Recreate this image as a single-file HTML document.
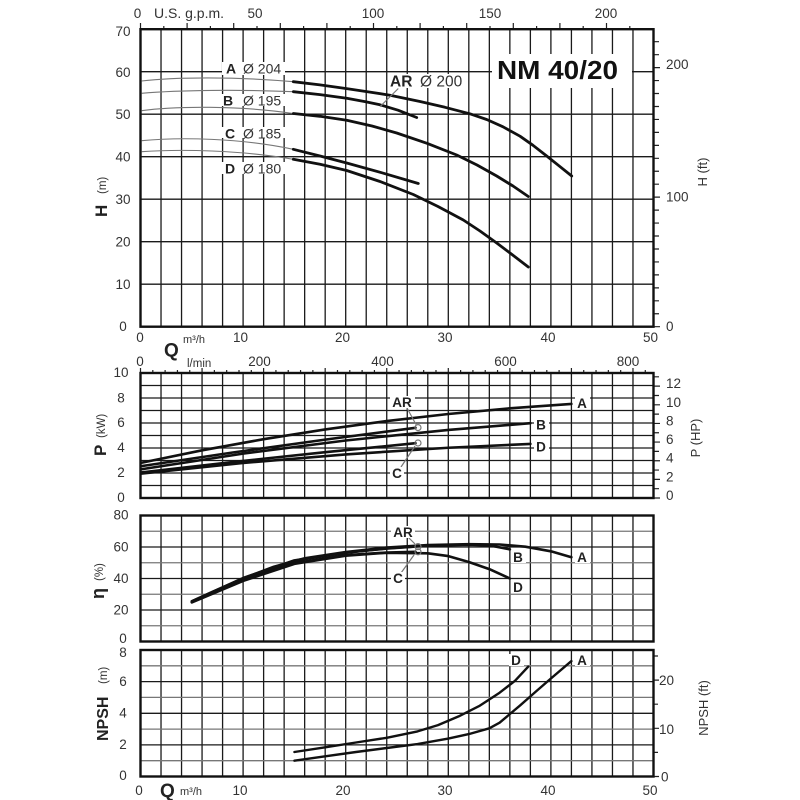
<!DOCTYPE html>
<html>
<head>
<meta charset="utf-8">
<style>
  html,body{margin:0;padding:0;background:#fff;}
  svg{display:block;}
  text{font-family:"Liberation Sans",Arial,sans-serif;fill:#333;}
  .t{font-size:13.5px;}
  .b{font-weight:bold;fill:#222;}
</style>
</head>
<body>
<svg width="800" height="800" viewBox="0 0 800 800" xmlns="http://www.w3.org/2000/svg">
<rect x="0" y="0" width="800" height="800" fill="#fff"/>

<!-- ================= GRIDS ================= -->
<g stroke="#1a1a1a" stroke-width="1.3" fill="none">
  <path d="M161.02 29.2V326.7M181.54 29.2V326.7M202.06 29.2V326.7M222.58 29.2V326.7M243.1 29.2V326.7M263.62 29.2V326.7M284.14 29.2V326.7M304.66 29.2V326.7M325.18 29.2V326.7M345.7 29.2V326.7M366.22 29.2V326.7M386.74 29.2V326.7M407.26 29.2V326.7M427.78 29.2V326.7M448.3 29.2V326.7M468.82 29.2V326.7M489.34 29.2V326.7M509.86 29.2V326.7M530.38 29.2V326.7M550.9 29.2V326.7M571.42 29.2V326.7M591.94 29.2V326.7M612.46 29.2V326.7M632.98 29.2V326.7"/>
  <path d="M140.5 71.7H653.5M140.5 114.2H653.5M140.5 156.7H653.5M140.5 199.2H653.5M140.5 241.7H653.5M140.5 284.2H653.5"/>
  <path d="M161.02 373V498M181.54 373V498M202.06 373V498M222.58 373V498M243.1 373V498M263.62 373V498M284.14 373V498M304.66 373V498M325.18 373V498M345.7 373V498M366.22 373V498M386.74 373V498M407.26 373V498M427.78 373V498M448.3 373V498M468.82 373V498M489.34 373V498M509.86 373V498M530.38 373V498M550.9 373V498M571.42 373V498M591.94 373V498M612.46 373V498M632.98 373V498"/>
  <path d="M140.5 385.5H653.5M140.5 398H653.5M140.5 410.5H653.5M140.5 423H653.5M140.5 435.5H653.5M140.5 448H653.5M140.5 460.5H653.5M140.5 473H653.5M140.5 485.5H653.5"/>
  <path d="M161.02 515.5V641.5M181.54 515.5V641.5M202.06 515.5V641.5M222.58 515.5V641.5M243.1 515.5V641.5M263.62 515.5V641.5M284.14 515.5V641.5M304.66 515.5V641.5M325.18 515.5V641.5M345.7 515.5V641.5M366.22 515.5V641.5M386.74 515.5V641.5M407.26 515.5V641.5M427.78 515.5V641.5M448.3 515.5V641.5M468.82 515.5V641.5M489.34 515.5V641.5M509.86 515.5V641.5M530.38 515.5V641.5M550.9 515.5V641.5M571.42 515.5V641.5M591.94 515.5V641.5M612.46 515.5V641.5M632.98 515.5V641.5"/>
  <path d="M140.5 547H653.5M140.5 578.5H653.5M140.5 610H653.5"/>
  <path d="M161.02 650V776.5M181.54 650V776.5M202.06 650V776.5M222.58 650V776.5M243.1 650V776.5M263.62 650V776.5M284.14 650V776.5M304.66 650V776.5M325.18 650V776.5M345.7 650V776.5M366.22 650V776.5M386.74 650V776.5M407.26 650V776.5M427.78 650V776.5M448.3 650V776.5M468.82 650V776.5M489.34 650V776.5M509.86 650V776.5M530.38 650V776.5M550.9 650V776.5M571.42 650V776.5M591.94 650V776.5M612.46 650V776.5M632.98 650V776.5"/>
  <path d="M140.5 681.6H653.5M140.5 713.3H653.5M140.5 744.9H653.5"/>
</g>
<g stroke="#777" stroke-width="1.3" fill="none">
  <path d="M140.5 531.25H653.5M140.5 562.75H653.5M140.5 594.25H653.5M140.5 625.75H653.5"/>
  <path d="M140.5 665.8H653.5M140.5 697.4H653.5M140.5 729.1H653.5M140.5 760.7H653.5"/>
</g>

<!-- ================= TICKS ================= -->
<g stroke="#222" stroke-width="1.2" fill="none">
  <path d="M140.5 29V23M163.8 29V26M187.1 29V23M210.4 29V26M233.7 29V23M257 29V26M280.3 29V23M303.6 29V26M326.9 29V23M350.2 29V26M373.5 29V23M396.8 29V26M420.1 29V23M443.4 29V26M466.7 29V23M490 29V26M513.3 29V23M536.6 29V26M559.9 29V23M583.2 29V26M606.5 29V23M629.8 29V26"/>
  <path d="M140.5 373V368M152.81 373V370M165.12 373V370M177.44 373V370M189.75 373V370M202.06 373V368M214.37 373V370M226.68 373V370M239 373V370M251.31 373V370M263.62 373V368M275.93 373V370M288.24 373V370M300.56 373V370M312.87 373V370M325.18 373V368M337.49 373V370M349.8 373V370M362.12 373V370M374.43 373V370M386.74 373V368M399.05 373V370M411.36 373V370M423.68 373V370M435.99 373V370M448.3 373V368M460.61 373V370M472.92 373V370M485.24 373V370M497.55 373V370M509.86 373V368M522.17 373V370M534.48 373V370M546.8 373V370M559.11 373V370M571.42 373V368M583.73 373V370M596.04 373V370M608.36 373V370M620.67 373V370M632.98 373V368M645.29 373V370"/>
  <path d="M653.5 326.7H660M653.5 313.75H659M653.5 300.79H659M653.5 287.84H659M653.5 274.88H659M653.5 261.93H659M653.5 248.98H659M653.5 236.02H659M653.5 223.07H659M653.5 210.11H659M653.5 197.16H660M653.5 184.21H659M653.5 171.25H659M653.5 158.3H659M653.5 145.34H659M653.5 132.39H659M653.5 119.44H659M653.5 106.48H659M653.5 93.53H659M653.5 80.57H659M653.5 67.62H660M653.5 54.67H659M653.5 41.71H659"/>
  <path d="M653.5 498H660M653.5 488.68H659M653.5 479.36H660M653.5 470.04H659M653.5 460.72H660M653.5 451.4H659M653.5 442.07H660M653.5 432.75H659M653.5 423.43H660M653.5 414.11H659M653.5 404.79H660M653.5 395.47H659M653.5 386.15H660M653.5 376.83H659"/>
  <path d="M653.5 776.5H659M653.5 752.4H658M653.5 728.3H659M653.5 704.2H658M653.5 680.1H659M653.5 656H658"/>
</g>

<!-- ================= BORDERS ================= -->
<g stroke="#111" stroke-width="2.4" fill="none">
  <rect x="140.5" y="29.2" width="513" height="297.5"/>
  <rect x="140.5" y="373" width="513" height="125"/>
  <rect x="140.5" y="515.5" width="513" height="126"/>
  <rect x="140.5" y="650" width="513" height="126.5"/>
</g>

<!-- ================= H CURVES ================= -->
<g stroke="#777" stroke-width="1.1" fill="none">
  <path d="M141.5,81 C175,77 235,76.5 293.3,81.7"/>
  <path d="M141.5,93.3 C180,90 240,89.5 293.3,91.7"/>
  <path d="M141.5,110.7 C175,106 240,105.5 293.3,113.5"/>
  <path d="M141.5,140.7 C180,137 240,138 293.3,149.3"/>
  <path d="M141.5,151.7 C180,149 240,150 293.3,159.3"/>
</g>
<g stroke="#111" stroke-width="2.8" fill="none" stroke-linejoin="round" stroke-linecap="round">
  <path d="M293.3,81.7 L320,84.9 L346.7,88.6 L370,92.1 L390,95.2 L420,101.5 L445,107.3 L470,113.8 L486.7,119.5 L503,126.8 L520,136.2 L533,145.3 L546.7,156 L559,165.8 L571.7,176"/>
  <path d="M293.3,91.7 L320,94.6 L346.7,98.3 L365,101.6 L380,104.8 L398,110.2 L416.7,117.5"/>
  <path d="M293.3,113.5 L320,116.3 L346.7,120.3 L372,126 L396.7,133 L427,143.3 L456.7,155 L477,165 L496.7,176 L513,186 L528.3,196.5"/>
  <path d="M293.3,149.3 L320,156 L346.7,163 L382,172.8 L418.3,183.5"/>
  <path d="M293.3,159.3 L320,164.3 L346.7,170.5 L380,181.5 L413.3,194.5 L438,206.5 L463.3,220 L480,231 L496.7,243 L512,254.5 L528.3,267"/>
</g>

<!-- ================= P CURVES ================= -->
<g stroke="#111" stroke-width="2.6" fill="none" stroke-linejoin="round" stroke-linecap="round">
  <path d="M141.5,462.75 L202.1,450.3 L263.6,439.2 L325.2,429.45 L386.7,421.05 L448.3,414 L509.9,408.3 L571.4,403.95"/>
  <path d="M141.5,466.1 L232.8,452.5 L325.2,439.6 L415.5,427.8"/>
  <path d="M141.5,469.25 L243.1,453.6 L345.7,440.5 L448.3,429.9 L530.4,423.2"/>
  <path d="M141.5,472.4 L232.8,462 L325.2,452.2 L415.5,443.2"/>
  <path d="M141.5,473.6 L243.1,463 L345.7,454.4 L448.3,447.75 L530.4,443.9"/>
</g>

<!-- ================= ETA CURVES ================= -->
<g stroke="#111" stroke-width="2.6" fill="none" stroke-linejoin="round" stroke-linecap="round">
  <path d="M191.8,601.3 L212.3,591.9 L243.1,578.5 L273.9,566.7 L304.7,558.3 L345.7,552 L386.7,547.6 L427.8,545.1 L468.8,544.2 L499.6,544.5 L525.3,546.7 L550.9,551.3 L571.4,557.2"/>
  <path d="M191.8,602.1 L212.3,592.7 L243.1,579.3 L273.9,567.5 L304.7,559.1 L345.7,552.8 L386.7,548.3 L427.8,545.7 L468.8,544.8 L489.3,545.4 L509.9,549.4"/>
  <path d="M191.8,601.3 L243.1,578 L294.4,560.4 L345.7,552.5 L386.7,548.6 L415.5,546.6"/>
  <path d="M191.8,602.1 L243.1,580.1 L294.4,563.1 L345.7,555.2 L386.7,552.5 L415.5,551.8"/>
  <path d="M191.8,602.4 L243.1,580.9 L294.4,563.9 L345.7,555.7 L386.7,552.8 L427.8,553.3 L448.3,556.1 L468.8,562 L489.3,569.1 L509.9,578.5"/>
</g>

<!-- ================= NPSH CURVES ================= -->
<g stroke="#111" stroke-width="2.4" fill="none" stroke-linejoin="round" stroke-linecap="round">
  <path d="M294.4,752 L325.2,747.3 L356,742.5 L386.7,737.8 L417.5,731.4 L438,725.1 L458.6,716.4 L479.1,706.1 L499.6,692.7 L515,680.8 L528.3,666.6"/>
  <path d="M294.4,760.7 L325.2,756.3 L356,752 L386.7,748 L417.5,744.1 L448.3,738.6 L468.8,734.1 L489.3,728.3 L499.6,722.7 L509.9,714 L520.1,705.4 L535.5,691.9 L550.9,678.5 L571.4,661.1"/>
</g>

<!-- markers & leaders -->
<g stroke="#777" stroke-width="1.2" fill="none">
  <circle cx="418" cy="427.6" r="3"/>
  <circle cx="418" cy="443" r="3"/>
  <path d="M407,408 L416,424.5"/>
  <path d="M401,467 L415,446"/>
  <circle cx="418" cy="546.6" r="3"/>
  <circle cx="418" cy="551.8" r="3"/>
  <path d="M408,537 L415,544"/>
  <path d="M401,573 L414,555"/>
  <path d="M398.3,88.5 L380,106.7"/>
</g>

<!-- ================= WHITE LABEL BOXES ================= -->
<g fill="#fff">
  <rect x="222" y="62" width="63" height="13"/>
  <rect x="220" y="94" width="65" height="12"/>
  <rect x="220" y="127" width="65" height="11"/>
  <rect x="220" y="162" width="65" height="12"/>
  <rect x="388" y="74" width="76" height="14"/>
  <rect x="492" y="54" width="140" height="34"/>
  <rect x="390" y="396" width="25" height="12"/>
  <rect x="390" y="467" width="14" height="12"/>
  <rect x="575" y="397" width="15" height="12"/>
  <rect x="534" y="418" width="15" height="12"/>
  <rect x="534" y="440" width="15" height="12"/>
  <rect x="391" y="526" width="24" height="12"/>
  <rect x="391" y="572" width="14" height="12"/>
  <rect x="511" y="551" width="15" height="12"/>
  <rect x="575" y="551" width="15" height="12"/>
  <rect x="511" y="581" width="15" height="12"/>
  <rect x="509" y="654" width="15" height="12"/>
  <rect x="575" y="654" width="15" height="12"/>
</g>

<!-- ================= CURVE LABELS ================= -->
<g font-size="14">
  <text x="226" y="73.5"><tspan class="b">A</tspan><tspan x="243">Ø 204</tspan></text>
  <text x="223" y="105.5"><tspan class="b">B</tspan><tspan x="243">Ø 195</tspan></text>
  <text x="225" y="138.5"><tspan class="b">C</tspan><tspan x="243">Ø 185</tspan></text>
  <text x="225" y="173.5"><tspan class="b">D</tspan><tspan x="243">Ø 180</tspan></text>
</g>
<text x="390" y="86.5" font-size="15.5"><tspan class="b">AR</tspan><tspan x="420">Ø 200</tspan></text>
<text x="497" y="79" font-size="26" font-weight="bold" style="fill:#111" textLength="121" lengthAdjust="spacingAndGlyphs">NM 40/20</text>

<g font-size="13.5" text-anchor="middle">
  <text class="b" x="402" y="407">AR</text>
  <text class="b" x="397" y="478">C</text>
  <text class="b" x="582" y="408">A</text>
  <text class="b" x="541" y="429.5">B</text>
  <text class="b" x="541" y="451.5">D</text>
  <text class="b" x="403" y="537">AR</text>
  <text class="b" x="398" y="583">C</text>
  <text class="b" x="518" y="562">B</text>
  <text class="b" x="582" y="562">A</text>
  <text class="b" x="518" y="592">D</text>
  <text class="b" x="516" y="665">D</text>
  <text class="b" x="582" y="665">A</text>
</g>

<!-- ================= AXIS NUMBERS ================= -->
<g class="t" text-anchor="middle">
  <text x="137.5" y="18">0</text>
  <text x="255" y="18">50</text>
  <text x="373" y="18">100</text>
  <text x="490" y="18">150</text>
  <text x="606" y="18">200</text>
  <text x="123" y="36">70</text>
  <text x="123" y="77">60</text>
  <text x="123" y="119">50</text>
  <text x="123" y="161.5">40</text>
  <text x="123" y="204">30</text>
  <text x="123" y="246.5">20</text>
  <text x="123" y="289">10</text>
  <text x="123" y="331">0</text>
  <text x="140" y="342">0</text>
  <text x="240.5" y="342">10</text>
  <text x="342.5" y="342">20</text>
  <text x="445" y="342">30</text>
  <text x="548" y="342">40</text>
  <text x="650.5" y="342">50</text>
  <text x="140" y="366">0</text>
  <text x="259.5" y="366">200</text>
  <text x="382.5" y="366">400</text>
  <text x="505.5" y="366">600</text>
  <text x="628" y="366">800</text>
  <text x="121" y="377">10</text>
  <text x="121" y="402.5">8</text>
  <text x="121" y="427">6</text>
  <text x="121" y="452">4</text>
  <text x="121" y="477">2</text>
  <text x="121" y="502">0</text>
  <text x="121" y="519.5">80</text>
  <text x="121" y="551.5">60</text>
  <text x="121" y="583">40</text>
  <text x="121" y="614.5">20</text>
  <text x="123" y="643">0</text>
  <text x="123" y="657">8</text>
  <text x="123" y="686">6</text>
  <text x="123" y="717.5">4</text>
  <text x="123" y="749">2</text>
  <text x="123" y="780">0</text>
  <text x="139" y="795">0</text>
  <text x="240" y="795">10</text>
  <text x="343" y="795">20</text>
  <text x="445" y="795">30</text>
  <text x="548" y="795">40</text>
  <text x="650" y="795">50</text>
</g>
<g class="t">
  <text x="666" y="331">0</text>
  <text x="666" y="201.5">100</text>
  <text x="666" y="69">200</text>
  <text x="666" y="500">0</text>
  <text x="666" y="481.4">2</text>
  <text x="666" y="462.7">4</text>
  <text x="666" y="444">6</text>
  <text x="666" y="425.4">8</text>
  <text x="666" y="406.8">10</text>
  <text x="666" y="388.2">12</text>
  <text x="661" y="781.5">0</text>
  <text x="659" y="734">10</text>
  <text x="659" y="685">20</text>
</g>

<!-- axis titles -->
<text x="154" y="18" font-size="14">U.S. g.p.m.</text>
<text x="164" y="356.5" font-size="19" class="b">Q</text>
<text x="183" y="343" font-size="11">m³/h</text>
<text x="187" y="367" font-size="11.5">l/min</text>
<text x="160" y="797" font-size="19" class="b">Q</text>
<text x="180" y="795" font-size="11">m³/h</text>

<!-- left rotated titles: symbol at bottom, unit above -->
<text transform="translate(107,217) rotate(-90)" font-size="17" class="b">H</text>
<text transform="translate(106,194) rotate(-90)" font-size="11.5">(m)</text>
<text transform="translate(106,456) rotate(-90)" font-size="17" class="b">P</text>
<text transform="translate(105,438) rotate(-90)" font-size="11.5">(kW)</text>
<text transform="translate(104,599) rotate(-90)" font-size="18" class="b">η</text>
<text transform="translate(103,581) rotate(-90)" font-size="11.5">(%)</text>
<text transform="translate(108,741) rotate(-90)" font-size="16" class="b">NPSH</text>
<text transform="translate(107,684) rotate(-90)" font-size="11.5">(m)</text>

<text transform="translate(707,172) rotate(-90)" text-anchor="middle" font-size="13">H (ft)</text>
<text transform="translate(700,438) rotate(-90)" text-anchor="middle" font-size="13">P (HP)</text>
<text transform="translate(708,708) rotate(-90)" text-anchor="middle" font-size="13">NPSH (ft)</text>
</svg>
</body>
</html>
